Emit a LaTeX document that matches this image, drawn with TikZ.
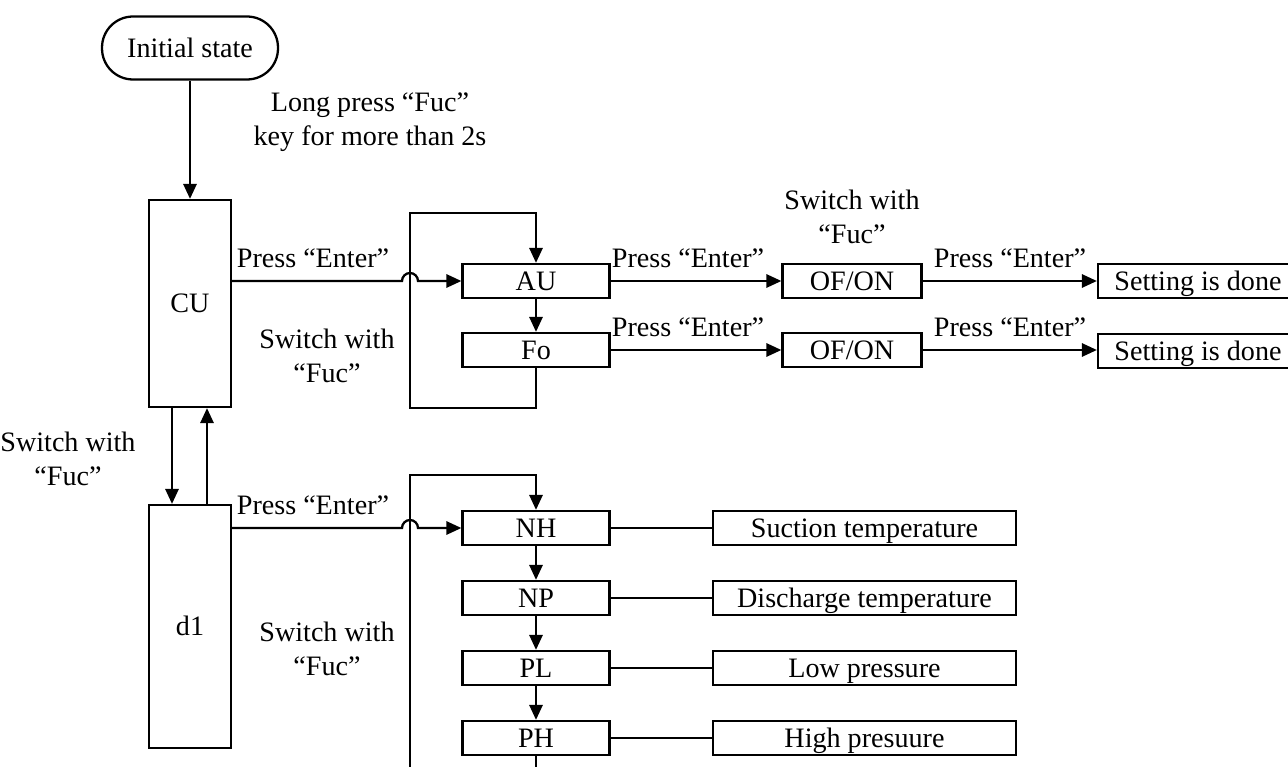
\documentclass[tikz,border=0pt]{standalone}
\usepackage{fontspec}
\setmainfont{Liberation Serif}
\usetikzlibrary{arrows.meta, calc}

\begin{document}
\begin{tikzpicture}[x=0.02cm, y=-0.02cm, >={Triangle[length=8.5pt,width=7.5pt]},
    line width=1.3pt, font=\fontsize{16}{19.5}\selectfont,
    box/.style={draw, rectangle, inner sep=0pt, minimum height=0.68cm,
      text height=10.5pt, text depth=0pt},
    term/.style={draw, rectangle, rounded corners=0.62cm, inner sep=0pt,
      minimum width=3.52cm, minimum height=1.26cm},
    lbl/.style={align=center, inner sep=0pt}]
  \useasboundingbox (0,0) rectangle (1288,767);
  \clip (0,0) rectangle (1288,767);
  % main column
  \node[term] (init) at (190,48) {Initial state};
  \node[box, minimum width=1.64cm, minimum height=4.14cm] (CU) at (190,303.5) {CU};
  \node[box, minimum width=1.64cm, minimum height=4.86cm] (d1) at (190,626.5) {d1};
  \draw[->] (init) -- (CU);
  \draw[->] ($(CU.south)+(-18,0)$) -- ($(d1.north)+(-18,0)$);
  \draw[->] ($(d1.north)+(17,0)$) -- ($(CU.south)+(17,0)$);
  \node[lbl] at (370,122) {Long press “Fuc”\\key for more than 2s};
  \node[lbl] at (68,459) {Switch with\\“Fuc”};
  % CU branch
  \node[box, minimum width=2.94cm] (AU) at (536,281) {AU};
  \node[box, minimum width=2.94cm] (Fo) at (536,350) {Fo};
  \node[box, minimum width=2.78cm] (on1) at (852,281) {OF/ON};
  \node[box, minimum width=2.78cm] (on2) at (852,350) {OF/ON};
  \node[box, minimum width=4cm] (done1) at (1198,281) {Setting is done};
  \node[box, minimum width=4cm] (done2) at (1198,351) {Setting is done};
  \coordinate (jA) at (410,213);
  \draw[->] (AU) -- (Fo);
  \draw[->] (Fo.south) -- ++(0,40) -| (jA) -| (AU.north);
  \draw[->] (CU.east |- AU.west) -- ($(jA |- AU.west)+(-8,0)$)
    arc[start angle=180, end angle=0, radius=0.16cm] -- (AU.west);
  \draw[->] (AU) -- (on1);
  \draw[->] (Fo) -- (on2);
  \draw[->] (on1) -- (done1.west |- on1);
  \draw[->] (on2) -- (done2.west |- on2);
  \node[lbl] at (313,258) {Press “Enter”};
  \node[lbl] at (688,258) {Press “Enter”};
  \node[lbl] at (1010,258) {Press “Enter”};
  \node[lbl] at (688,327) {Press “Enter”};
  \node[lbl] at (1010,327) {Press “Enter”};
  \node[lbl] at (852,217) {Switch with\\“Fuc”};
  \node[lbl] at (327,356) {Switch with\\“Fuc”};
  % d1 branch
  \node[box, minimum width=2.94cm] (NH) at (536,528) {NH};
  \node[box, minimum width=2.94cm] (NP) at (536,598) {NP};
  \node[box, minimum width=2.94cm] (PL) at (536,668) {PL};
  \node[box, minimum width=2.94cm] (PH) at (536,738) {PH};
  \node[box, minimum width=6.06cm] (suc) at (864.5,528) {Suction temperature};
  \node[box, minimum width=6.06cm] (dis) at (864.5,598) {Discharge temperature};
  \node[box, minimum width=6.06cm] (lowp) at (864.5,668) {Low pressure};
  \node[box, minimum width=6.06cm] (highp) at (864.5,738) {High presuure};
  \coordinate (jB) at (410,475);
  \draw[->] (NH) -- (NP);
  \draw[->] (NP) -- (PL);
  \draw[->] (PL) -- (PH);
  \draw[->] (PH.south) -- ++(0,40) -| (jB) -| (NH.north);
  \draw[->] (d1.east |- NH.west) -- ($(jB |- NH.west)+(-8,0)$)
    arc[start angle=180, end angle=0, radius=0.16cm] -- (NH.west);
  \draw (NH) -- (suc);
  \draw (NP) -- (dis);
  \draw (PL) -- (lowp);
  \draw (PH) -- (highp);
  \node[lbl] at (313,505) {Press “Enter”};
  \node[lbl] at (327,649) {Switch with\\“Fuc”};
\end{tikzpicture}
\end{document}
